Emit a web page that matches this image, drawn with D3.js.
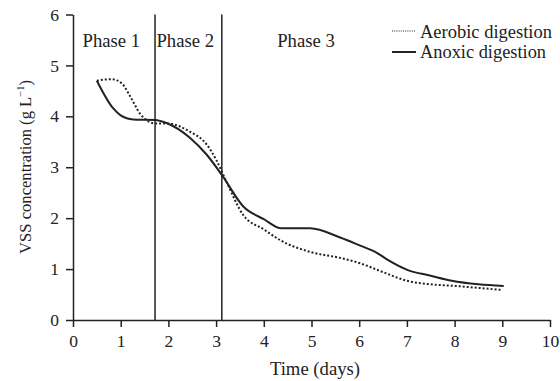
<!DOCTYPE html>
<meta charset="utf-8">
<body style="margin:0;background:#fff">
<style>
text { font-family: "Liberation Serif", "Times New Roman", serif; font-size: 17.5px; fill: #222; }
.axis path, .axis line { stroke: #222; stroke-width: 1.5px; }
.series { fill: none; stroke: #222; stroke-width: 2px; }
</style>
<script src="https://cdn.jsdelivr.net/npm/d3@7"></script>
<script>

// days / VSS (g/L)
var aerobicDays = [0.5, 0.81, 1.02, 1.2, 1.4, 1.58, 1.72, 1.96, 2.45, 2.8, 3.0, 3.2, 3.57, 4.0, 4.34, 5.0, 5.6, 6.0, 6.5, 7.0, 7.5, 8.0, 8.5, 9.0];
var aerobicVss  = [4.7, 4.73, 4.65, 4.39, 4.06, 3.9, 3.86, 3.86, 3.7, 3.45, 3.15, 2.75, 2.06, 1.78, 1.57, 1.33, 1.22, 1.12, 0.94, 0.77, 0.7, 0.67, 0.63, 0.59];
var anoxicDays = [0.5, 0.84, 1.0, 1.26, 1.72, 1.96, 2.45, 2.8, 3.12, 3.57, 4.0, 4.37, 4.97, 5.6, 6.02, 6.37, 6.6, 7.02, 7.5, 7.94, 8.5, 9.03];
var anoxicVss  = [4.7, 4.16, 4.02, 3.94, 3.93, 3.87, 3.58, 3.25, 2.85, 2.23, 1.98, 1.8, 1.8, 1.62, 1.46, 1.32, 1.18, 0.98, 0.87, 0.77, 0.7, 0.67];
var phaseBounds = [1.72, 3.12];
var phaseLabels = ["Phase 1", "Phase 2", "Phase 3"];
var phaseLabelX = [0.2, 1.75, 4.28];
var legendLabels = ["Aerobic digestion", "Anoxic digestion"];
var xTicks = d3.range(0, 11);
var yTicks = d3.range(0, 7);

var svg = d3.select("body").append("svg")
    .attr("width", 560)
    .attr("height", 381);

var x = d3.scaleLinear().domain([0, 10]).range([73, 550]);
var y = d3.scaleLinear().domain([0, 6]).range([320, 14.5]);

svg.append("g")
    .attr("class", "axis")
    .attr("transform", "translate(0,320)")
    .call(d3.axisBottom(x).tickValues(xTicks).tickFormat(d3.format("d")).tickSize(7).tickSizeOuter(0).tickPadding(8));

svg.append("g")
    .attr("class", "axis")
    .attr("transform", "translate(73,0)")
    .call(d3.axisLeft(y).tickValues(yTicks).tickFormat(d3.format("d")).tickSize(7).tickSizeOuter(0).tickPadding(7));

svg.selectAll(".axis").attr("font-family", null).attr("font-size", null);

// phase boundaries
svg.selectAll(".phase")
  .data(phaseBounds)
  .enter().append("line")
    .attr("x1", d => x(d)).attr("x2", d => x(d))
    .attr("y1", y(6)).attr("y2", y(0))
    .style("stroke", "#222").style("stroke-width", 1.5);

svg.selectAll(".phaseLabel")
  .data(phaseLabels)
  .enter().append("text")
    .attr("x", (d, i) => x(phaseLabelX[i]))
    .attr("y", 47)
    .style("font-size", "18.7px")
    .text(d => d);

var line = d3.line()
    .x(d => x(d[0]))
    .y(d => y(d[1]))
    .curve(d3.curveMonotoneX);

svg.append("path")
    .datum(d3.zip(aerobicDays, aerobicVss))
    .attr("class", "series")
    .attr("d", line)
    .style("stroke-dasharray", "2,2");

svg.append("path")
    .datum(d3.zip(anoxicDays, anoxicVss))
    .attr("class", "series")
    .attr("d", line);

// legend
var leg = svg.append("g").attr("transform", "translate(392,31)");
leg.append("line").attr("x1", 0).attr("x2", 23).attr("y1", 0).attr("y2", 0)
    .style("stroke", "#222").style("stroke-width", 1).style("stroke-dasharray", "1,1.2");
leg.append("line").attr("x1", 0).attr("x2", 24).attr("y1", 21).attr("y2", 21)
    .style("stroke", "#222").style("stroke-width", 2);
leg.selectAll("text")
  .data(legendLabels)
  .enter().append("text")
    .attr("x", 28)
    .attr("y", (d, i) => 6.5 + i * 20)
    .attr("textLength", (d, i) => i ? 126 : 132)
    .attr("lengthAdjust", "spacingAndGlyphs")
    .style("font-size", "18.5px")
    .text(d => d);

// axis titles
svg.append("text")
    .attr("text-anchor", "middle")
    .attr("x", 315).attr("y", 375)
    .style("font-size", "18.7px")
    .text("Time (days)");

var yt = svg.append("text")
    .attr("text-anchor", "middle")
    .attr("transform", "translate(31,167) rotate(-90)")
    .style("font-size", "16.6px");
yt.append("tspan").text("VSS concentration (g L");
yt.append("tspan").attr("font-size", "10.5px").attr("dy", -7).text("\u22121");
yt.append("tspan").attr("dy", 7).text(")");

</script>
